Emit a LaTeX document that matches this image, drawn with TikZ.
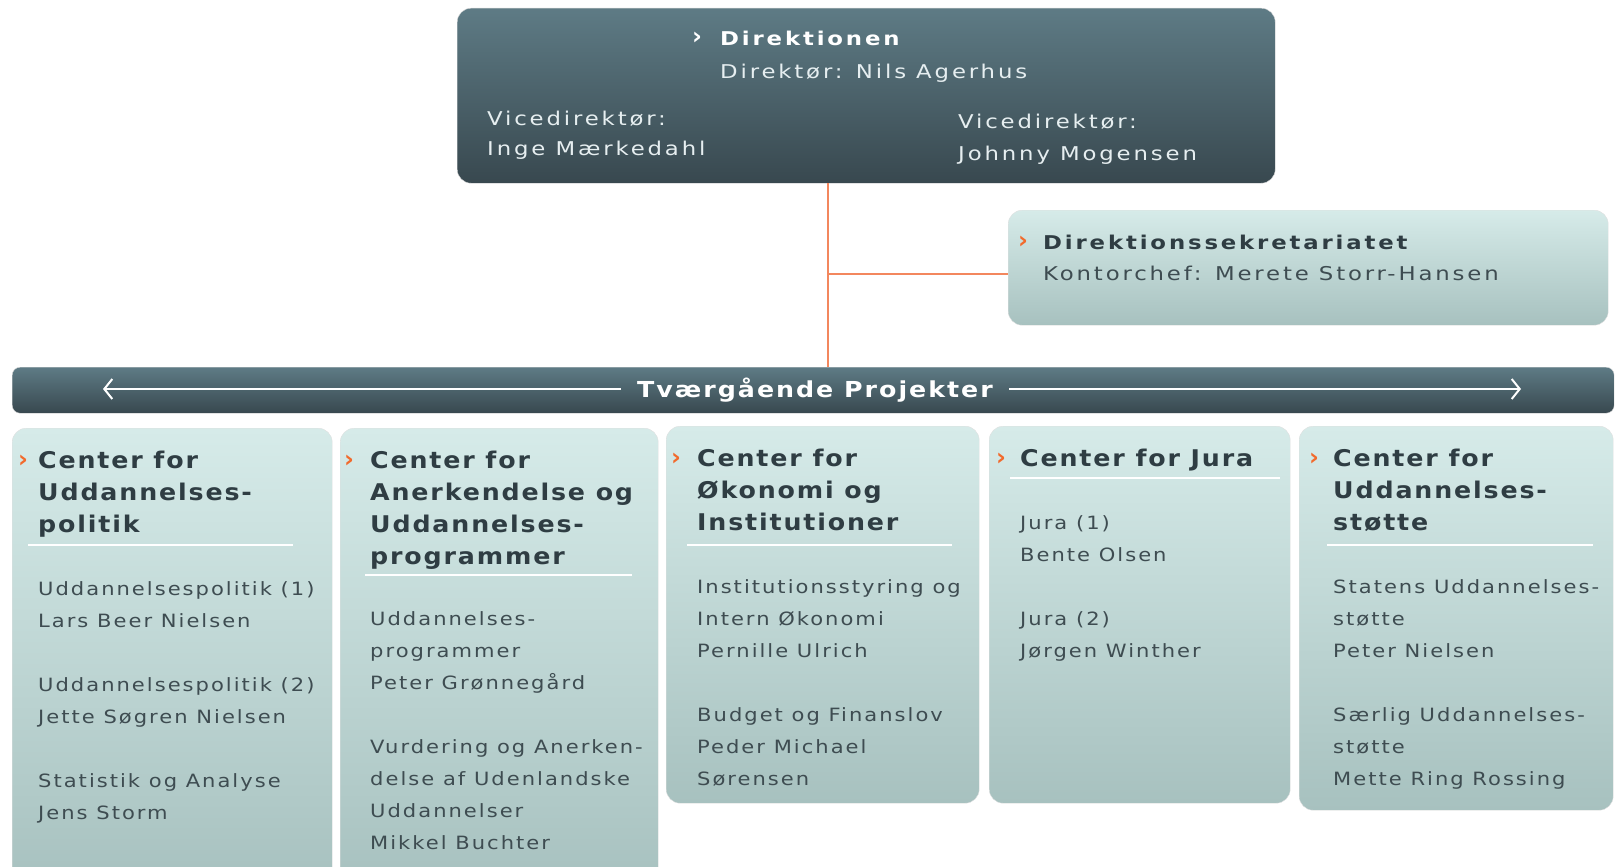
\documentclass[tikz,border=0pt]{standalone}
\usepackage{fontspec}
\setmainfont{DejaVu Sans}
\newfontfamily\topfont[FakeStretch=1.2, LetterSpace=15]{DejaVu Sans}
\newfontfamily\headfont[FakeStretch=1.1, LetterSpace=8]{DejaVu Sans}
\newfontfamily\bodyfont[FakeStretch=1.15, LetterSpace=11]{DejaVu Sans}
\newfontfamily\barfont[FakeStretch=1.15, LetterSpace=9]{DejaVu Sans}
\usetikzlibrary{arrows.meta}
\definecolor{darktop}{HTML}{5E7B85}
\definecolor{darkbot}{HTML}{38484F}
\definecolor{lighttop}{HTML}{D6EBE9}
\definecolor{lightbot}{HTML}{A7C1BF}
\definecolor{headtxt}{HTML}{2F3D43}
\definecolor{bodytxt}{HTML}{3E4C51}
\definecolor{toptxt}{HTML}{E6EEF0}
\definecolor{arroworange}{HTML}{F26A2C}
\definecolor{linkorange}{HTML}{F3875E}
\tikzset{
  darkbox/.style={anchor=north west, inner sep=0pt, rounded corners=14pt,
    top color=darktop, bottom color=darkbot, draw=black!15},
  lightbox/.style={anchor=north west, inner sep=0pt, rounded corners=14pt,
    top color=lighttop, bottom color=lightbot, draw=black!12},
  toptext/.style={anchor=base west, inner sep=0pt, text=toptxt,
    font=\topfont\fontsize{19}{24}\selectfont},
  topbold/.style={anchor=base west, inner sep=0pt, text=white,
    font=\topfont\bfseries\fontsize{19}{24}\selectfont},
  headtext/.style={anchor=base west, inner sep=0pt, text=headtxt,
    font=\headfont\bfseries\fontsize{23}{32}\selectfont},
  bodytext/.style={anchor=base west, inner sep=0pt, text=bodytxt,
    font=\bodyfont\fontsize{18.3}{32}\selectfont},
  chevron/.style={anchor=base west, inner sep=0pt, text=arroworange,
    font=\bfseries\fontsize{24}{24}\selectfont},
  seprule/.style={white, line width=1.5pt},
  link/.style={linkorange, line width=1.5pt},
  barrow/.style={white, line width=2pt},
}
\begin{document}
\begin{tikzpicture}[x=1pt,y=-1pt]
\useasboundingbox (0,0) rectangle (1619,867);
\clip (0,0) rectangle (1619,867);

% Direktionen
\node[darkbox, minimum width=818pt, minimum height=175pt] (dir) at (457,8) {};
\node[chevron, text=white] (dirarr) at (692,45) {›};
\node[topbold] (dirname) at (720,46) {Direktionen};
\node[toptext] (dirchef) at (720,78) {Direktør: Nils Agerhus};
\node[toptext] (vice1) at (487,125) {Vicedirektør:};
\node[toptext] (vice1n) at (487,155) {Inge Mærkedahl};
\node[toptext] (vice2) at (958,128) {Vicedirektør:};
\node[toptext] (vice2n) at (958,160) {Johnny Mogensen};

% sekretariat
\node[lightbox, minimum width=600pt, minimum height=115pt] (sek) at (1008,210) {};
\node[chevron] (sekarr) at (1018,248) {›};
\node[topbold, text=headtxt] (sekname) at (1043,249) {Direktionssekretariatet};
\node[toptext, text=bodytxt] (sekchef) at (1043,280) {Kontorchef: Merete Storr-Hansen};

% tvaergaaende
\node[darkbox, rounded corners=8pt, minimum width=1602pt, minimum height=46pt] (bar) at (12,367) {};
\node[anchor=base, inner xsep=16pt, inner ysep=0pt, text=white,
  font=\barfont\bfseries\fontsize{22}{26}\selectfont] (bartxt) at (815,397) {Tværgående Projekter};
\coordinate (barl) at (103,389);
\coordinate (barr) at (1521,389);
\draw[barrow, -{Straight Barb[length=8pt,width=20pt]}] (bartxt.west |- barl) -- (barl);
\draw[barrow, -{Straight Barb[length=8pt,width=20pt]}] (bartxt.east |- barr) -- (barr);

\coordinate (split) at (828,274);
\draw[link] (dir.south -| split) -- (bar.north -| split);
\draw[link] (split) -- (split -| sek.west);

% Uddannelsespolitik
\node[lightbox, minimum width=320pt, minimum height=460pt] (c1) at (12,428) {};
\node[chevron] (c1arr) at (18,467) {›};
\foreach \l/\t in {0/Center for, 1/Uddannelses-, 2/politik}
  \node[headtext] (c1h\l) at (38,468+32*\l) {\t};
\draw[seprule] (28,545) -- (293,545);
\foreach \l/\t in {0/Uddannelsespolitik (1), 1/Lars Beer Nielsen, 3/Uddannelsespolitik (2),
  4/Jette Søgren Nielsen, 6/Statistik og Analyse, 7/Jens Storm}
  \node[bodytext] (c1b\l) at (38,595+32*\l) {\t};

% Anerkendelse
\node[lightbox, minimum width=318pt, minimum height=460pt] (c2) at (340,428) {};
\node[chevron] (c2arr) at (344,467) {›};
\foreach \l/\t in {0/Center for, 1/Anerkendelse og, 2/Uddannelses-, 3/programmer}
  \node[headtext] (c2h\l) at (370,468+32*\l) {\t};
\draw[seprule] (365,575) -- (632,575);
\foreach \l/\t in {0/Uddannelses-, 1/programmer, 2/Peter Grønnegård, 4/Vurdering og Anerken-,
  5/delse af Udenlandske, 6/Uddannelser, 7/Mikkel Buchter}
  \node[bodytext] (c2b\l) at (370,625+32*\l) {\t};

% Oekonomi
\node[lightbox, minimum width=313pt, minimum height=377pt] (c3) at (666,426) {};
\node[chevron] (c3arr) at (671,465) {›};
\foreach \l/\t in {0/Center for, 1/Økonomi og, 2/Institutioner}
  \node[headtext] (c3h\l) at (697,466+32*\l) {\t};
\draw[seprule] (687,545) -- (952,545);
\foreach \l/\t in {0/Institutionsstyring og, 1/Intern Økonomi, 2/Pernille Ulrich,
  4/Budget og Finanslov, 5/Peder Michael, 6/Sørensen}
  \node[bodytext] (c3b\l) at (697,593+32*\l) {\t};

% Jura
\node[lightbox, minimum width=301pt, minimum height=377pt] (c4) at (989,426) {};
\node[chevron] (c4arr) at (996,465) {›};
\node[headtext] (c4h0) at (1020,466) {Center for Jura};
\draw[seprule] (1010,478) -- (1280,478);
\foreach \l/\t in {0/Jura (1), 1/Bente Olsen, 3/Jura (2), 4/Jørgen Winther}
  \node[bodytext] (c4b\l) at (1020,529+32*\l) {\t};

% Uddannelsesstoette
\node[lightbox, minimum width=314pt, minimum height=384pt] (c5) at (1299,426) {};
\node[chevron] (c5arr) at (1309,465) {›};
\foreach \l/\t in {0/Center for, 1/Uddannelses-, 2/støtte}
  \node[headtext] (c5h\l) at (1333,466+32*\l) {\t};
\draw[seprule] (1327,545) -- (1593,545);
\foreach \l/\t in {0/Statens Uddannelses-, 1/støtte, 2/Peter Nielsen,
  4/Særlig Uddannelses-, 5/støtte, 6/Mette Ring Rossing}
  \node[bodytext] (c5b\l) at (1333,593+32*\l) {\t};
\end{tikzpicture}
\end{document}
